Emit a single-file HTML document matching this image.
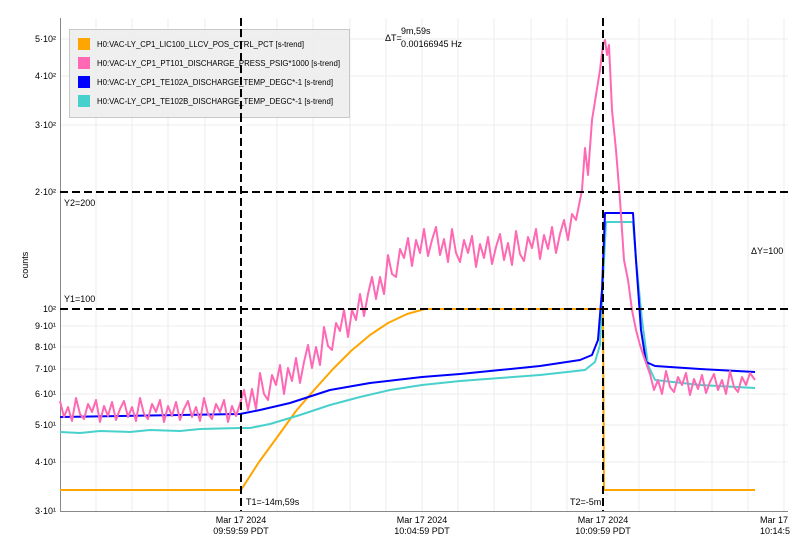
<!DOCTYPE html>
<html><head><meta charset="utf-8"><style>
body{margin:0;background:#fff;}
svg{display:block;font-family:"Liberation Sans",sans-serif;}
</style></head><body>
<svg width="804" height="551" xmlns="http://www.w3.org/2000/svg">
<rect width="804" height="551" fill="#fff"/>
<g stroke="#ececec" stroke-width="1">
<line x1="60" y1="39" x2="788" y2="39"/><line x1="60" y1="76" x2="788" y2="76"/><line x1="60" y1="125" x2="788" y2="125"/>
<line x1="60" y1="326" x2="788" y2="326"/><line x1="60" y1="347" x2="788" y2="347"/><line x1="60" y1="369" x2="788" y2="369"/>
<line x1="60" y1="394" x2="788" y2="394"/><line x1="60" y1="425" x2="788" y2="425"/><line x1="60" y1="462" x2="788" y2="462"/>
<line x1="96" y1="18" x2="96" y2="511"/><line x1="132" y1="18" x2="132" y2="511"/><line x1="168" y1="18" x2="168" y2="511"/><line x1="205" y1="18" x2="205" y2="511"/>
<line x1="277" y1="18" x2="277" y2="511"/><line x1="313" y1="18" x2="313" y2="511"/><line x1="350" y1="18" x2="350" y2="511"/><line x1="386" y1="18" x2="386" y2="511"/><line x1="422" y1="18" x2="422" y2="511"/>
<line x1="458" y1="18" x2="458" y2="511"/><line x1="494" y1="18" x2="494" y2="511"/><line x1="531" y1="18" x2="531" y2="511"/><line x1="567" y1="18" x2="567" y2="511"/>
<line x1="639" y1="18" x2="639" y2="511"/><line x1="675" y1="18" x2="675" y2="511"/><line x1="712" y1="18" x2="712" y2="511"/><line x1="748" y1="18" x2="748" y2="511"/><line x1="784" y1="18" x2="784" y2="511"/>
</g>
<line x1="60.5" y1="18" x2="60.5" y2="511" stroke="#888"/>
<line x1="60" y1="511.5" x2="788" y2="511.5" stroke="#888"/>
<g fill="none" stroke-width="2" stroke-linejoin="round">
<polyline stroke="#FFA500" points="60,490 241,490 259,462 278,436 296,411 315,389 333,369 351,351 370,335 388,323 407,314 425,309 603,309 604,490 755,490"/>
<polyline stroke="#48D1CC" points="60,432 80,433 100,431 130,432 150,430 180,431 200,429 240,428 250,428 270,424 300,415 330,405 360,397 390,390 422,385 460,381 500,378 540,375 585,370 595,362 600,345 603,280 606,222 633,222 636,260 642,320 648,365 655,380 700,385 755,388"/>
<polyline stroke="#0000FF" points="60,417 240,414 260,410 290,403 330,390 370,383 422,377 460,374 500,370 540,366 580,360 592,355 598,340 602,290 605,213 633,213 636,260 641,330 646,362 655,366 700,369 755,372"/>
<polyline stroke="#FF69B4" points="60,401 64,417 68,407 72,421 76,398 80,414 84,419 88,404 92,412 96,400 100,422 104,406 108,416 112,402 116,420 120,409 124,401 128,417 132,407 136,421 140,398 144,414 148,419 152,404 156,412 160,400 164,422 168,406 172,416 176,402 180,420 184,409 188,401 192,417 196,407 200,421 204,398 208,414 212,419 216,404 220,412 224,400 228,422 232,406 236,416 240,404 244,390 248,410 252,389 256,409 260,373 264,394 268,400 272,375 276,385 280,365 284,394 288,368 292,381 296,358 300,383 304,362 308,345 312,368 316,347 320,365 324,327 328,346 332,350 336,323 340,331 344,310 348,337 352,310 356,320 360,294 364,316 368,294 372,277 376,299 380,277 384,294 388,255 392,274 396,277 400,249 404,258 408,238 412,266 416,240 420,253 424,229 428,256 432,240 436,227 440,255 444,239 448,262 452,229 456,253 460,262 464,240 468,253 472,236 476,267 480,244 484,258 488,237 492,264 496,247 500,234 504,260 508,243 512,265 516,231 520,254 524,261 528,237 532,248 536,229 540,259 544,235 548,249 552,227 556,253 560,234 564,220 568,240 572,214 576,220 580,200 582,190 585,148 588,175 592,120 596,95 600,70 603,45 605,40 607,55 609,45 612,110 616,150 620,200 624,260 628,280 632,310 636,330 640,345 645,360 650,374 654,390 658,380 662,394 666,371 670,387 674,392 678,377 682,385 686,373 690,395 694,379 698,389 702,375 706,393 710,382 714,374 718,390 722,380 726,394 730,371 734,387 738,392 742,377 746,385 750,373 755,380"/>
</g>
<g stroke="#000" stroke-width="2" stroke-dasharray="8,4">
<line x1="241" y1="18" x2="241" y2="511"/>
<line x1="603" y1="18" x2="603" y2="511"/>
<line x1="60" y1="192" x2="788" y2="192"/>
<line x1="60" y1="309" x2="788" y2="309"/>
</g>
<g font-size="9" fill="#000">
<text x="56" y="42" text-anchor="end">5·10²</text>
<text x="56" y="79" text-anchor="end">4·10²</text>
<text x="56" y="128" text-anchor="end">3·10²</text>
<text x="56" y="195" text-anchor="end">2·10²</text>
<text x="56" y="312" text-anchor="end">10²</text>
<text x="56" y="329" text-anchor="end">9·10¹</text>
<text x="56" y="350" text-anchor="end">8·10¹</text>
<text x="56" y="372" text-anchor="end">7·10¹</text>
<text x="56" y="397" text-anchor="end">6·10¹</text>
<text x="56" y="428" text-anchor="end">5·10¹</text>
<text x="56" y="465" text-anchor="end">4·10¹</text>
<text x="56" y="514" text-anchor="end">3·10¹</text>
<text transform="translate(28,265) rotate(-90)" text-anchor="middle">counts</text>
<text x="241" y="523" text-anchor="middle">Mar 17 2024</text>
<text x="241" y="534" text-anchor="middle">09:59:59 PDT</text>
<text x="422" y="523" text-anchor="middle">Mar 17 2024</text>
<text x="422" y="534" text-anchor="middle">10:04:59 PDT</text>
<text x="603" y="523" text-anchor="middle">Mar 17 2024</text>
<text x="603" y="534" text-anchor="middle">10:09:59 PDT</text>
<text x="760" y="523">Mar 17</text>
<text x="760" y="534">10:14:5</text>
<text x="64" y="206">Y2=200</text>
<text x="64" y="302">Y1=100</text>
<text x="751" y="254">ΔY=100</text>
<text x="385" y="41">ΔT=</text>
<text x="401" y="34">9m,59s</text>
<text x="401" y="47">0.00166945 Hz</text>
<text x="246" y="505">T1=-14m,59s</text>
<text x="570" y="505">T2=-5m</text>
</g>
<rect x="69.5" y="29.5" width="280" height="88" fill="#eeeeee" fill-opacity="0.93" stroke="#c8c8c8"/>
<g font-size="8.5" textLength="1">
<rect x="78" y="38" width="12" height="12" fill="#FFA500"/>
<text x="97" y="47" textLength="207" lengthAdjust="spacingAndGlyphs">H0:VAC-LY_CP1_LIC100_LLCV_POS_CTRL_PCT [s-trend]</text>
<rect x="78" y="57" width="12" height="12" fill="#FF69B4"/>
<text x="97" y="66" textLength="243" lengthAdjust="spacingAndGlyphs">H0:VAC-LY_CP1_PT101_DISCHARGE_PRESS_PSIG*1000 [s-trend]</text>
<rect x="78" y="76" width="12" height="12" fill="#0000FF"/>
<text x="97" y="85" textLength="236" lengthAdjust="spacingAndGlyphs">H0:VAC-LY_CP1_TE102A_DISCHARGE_TEMP_DEGC*-1 [s-trend]</text>
<rect x="78" y="95" width="12" height="12" fill="#48D1CC"/>
<text x="97" y="104" textLength="236" lengthAdjust="spacingAndGlyphs">H0:VAC-LY_CP1_TE102B_DISCHARGE_TEMP_DEGC*-1 [s-trend]</text>
</g>
<line x1="241" y1="29" x2="241" y2="118" stroke="#000" stroke-width="2" stroke-dasharray="8,4"/>
</svg>
</body></html>
